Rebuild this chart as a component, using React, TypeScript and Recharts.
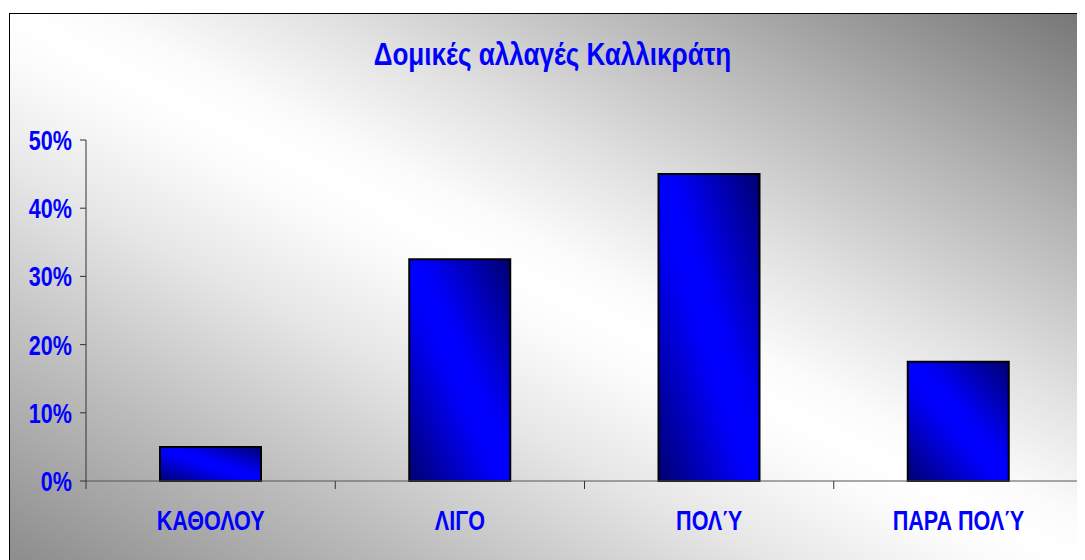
import React from 'react';
import { BarChart, Bar, XAxis, YAxis } from 'recharts';

const title = 'Δομικές αλλαγές Καλλικράτη';
const categories = ['ΚΑΘΟΛΟΥ', 'ΛΙΓΟ', 'ΠΟΛΎ', 'ΠΑΡΑ ΠΟΛΎ'];
const values = [0.05, 0.325, 0.45, 0.175];
const yTicks = [0, 0.1, 0.2, 0.3, 0.4, 0.5];
const yTickLabels = ['0%', '10%', '20%', '30%', '40%', '50%'];

const data = categories.map((c, i) => ({ name: c, value: values[i] }));

const FONT = '"Liberation Sans", Arial, sans-serif';
const BLUE = '#0000ff';

const YTick = (props: any) => {
  const { x, y, payload } = props;
  const idx = yTicks.indexOf(payload.value);
  const label = idx >= 0 ? yTickLabels[idx] : String(payload.value);
  return (
    <text
      transform={`translate(${x},${y + 10}) scale(0.77,1)`}
      textAnchor="end"
      fill={BLUE}
      fontFamily={FONT}
      fontWeight="bold"
      fontSize={28}
    >
      {label}
    </text>
  );
};

const XTick = (props: any) => {
  const { x, y, payload, index } = props;
  const off = payload && payload.offset ? payload.offset : 0;
  const y0 = y;
  return (
    <g>
      {index === 0 && (
        <line x1={x - off} x2={x - off} y1={y0} y2={y0 + 8} stroke="#333" strokeWidth={1} />
      )}
      <line x1={x + off} x2={x + off} y1={y0} y2={y0 + 8} stroke="#333" strokeWidth={1} />
      <text
        transform={`translate(${x},${y0 + 49}) scale(0.77,1)`}
        textAnchor="middle"
        fill={BLUE}
        fontFamily={FONT}
        fontWeight="bold"
        fontSize={28}
      >
        {payload.value}
      </text>
    </g>
  );
};

export default function App() {
  return (
    <div style={{ width: 1077, height: 552, overflow: 'hidden', position: 'relative' }}>
      <div
        style={{
          position: 'absolute',
          left: 1,
          top: 5,
          width: 1090,
          height: 560,
          boxSizing: 'border-box',
          border: '1px solid #000',
          background:
            'linear-gradient(to top right, #8a8a8a 0%, #bcbcbc 20%, #e6e6e6 36%, #fbfbfb 46%, #ffffff 50%, #fbfbfb 54%, #e2e2e2 64%, #b4b4b4 80%, #747474 100%)',
        }}
      />
      <div style={{ position: 'absolute', left: 1, top: 5 }}>
        <BarChart
          width={1090}
          height={560}
          data={data}
          margin={{ top: 127, right: 16, left: 0, bottom: 42 }}
        >
          <defs>
            <linearGradient id="barGrad" x1="0" y1="1" x2="1" y2="0">
              <stop offset="0%" stopColor="#000070" />
              <stop offset="22%" stopColor="#0000b8" />
              <stop offset="42%" stopColor="#0000f8" />
              <stop offset="50%" stopColor="#0000ff" />
              <stop offset="58%" stopColor="#0000f8" />
              <stop offset="78%" stopColor="#0000b8" />
              <stop offset="100%" stopColor="#000070" />
            </linearGradient>
          </defs>
          <XAxis
            dataKey="name"
            height={50}
            tickLine={false}
            tickSize={0}
            tickMargin={0}
            axisLine={{ stroke: '#555', strokeWidth: 1 }}
            tick={<XTick />}
            interval={0}
          />
          <YAxis
            width={77}
            domain={[0, 0.5]}
            ticks={yTicks}
            tickSize={6}
            tickMargin={8}
            tickLine={{ stroke: '#333' }}
            axisLine={{ stroke: '#333', strokeWidth: 1 }}
            tick={<YTick />}
            interval={0}
          />
          <Bar
            dataKey="value"
            fill="url(#barGrad)"
            stroke="#000"
            strokeWidth={2}
            barSize={101}
            isAnimationActive={false}
          />
        </BarChart>
      </div>
      <svg
        width={1090}
        height={100}
        style={{ position: 'absolute', left: 1, top: 5, pointerEvents: 'none' }}
      >
        <text
          transform="translate(543.5,52) scale(0.815,1)"
          textAnchor="middle"
          fill={BLUE}
          fontFamily={FONT}
          fontWeight="bold"
          fontSize={32}
        >
          {title}
        </text>
      </svg>
    </div>
  );
}
